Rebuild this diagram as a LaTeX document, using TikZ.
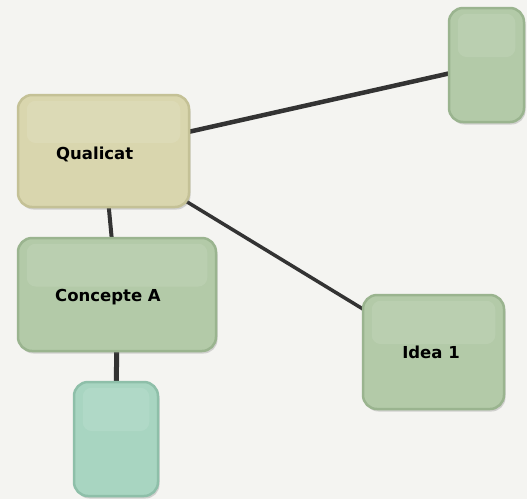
\documentclass[tikz,border=0pt]{standalone}
\usepackage{fontspec}
\setmainfont{DejaVu Sans}
\usetikzlibrary{shadows,calc}
\pgfdeclarelayer{bg}
\pgfdeclarelayer{edges}
\pgfsetlayers{bg,edges,main}
\definecolor{paper}{HTML}{F4F4F1}
\definecolor{yelfill}{HTML}{D9D6AE}
\definecolor{yelline}{HTML}{C4C196}
\definecolor{grnfill}{HTML}{B3CAA8}
\definecolor{grnline}{HTML}{9AB48F}
\definecolor{tealfill}{HTML}{A8D5C1}
\definecolor{tealline}{HTML}{8EBFA9}
\definecolor{edgecol}{HTML}{333333}
\tikzset{
  box/.style={rounded corners=14pt, line width=2.5pt, inner sep=0pt,
    drop shadow={shadow xshift=1.5pt, shadow yshift=-2.5pt, opacity=0.25, fill=black!60}},
  yelbox/.style={box, fill=yelfill, draw=yelline},
  grnbox/.style={box, fill=grnfill, draw=grnline},
  tealbox/.style={box, fill=tealfill, draw=tealline},
  gloss/.style={fill=white, opacity=0.1, rounded corners=9pt},
  label/.style={font=\bfseries\fontsize{16.5}{18}\selectfont, text=black, inner sep=0pt},
  link/.style={draw=edgecol, line cap=round},
}
\begin{document}
\begin{tikzpicture}[x=1pt,y=-1pt]
\begin{pgfonlayer}{bg}
\fill[paper] (0,0) rectangle (527,499);
\end{pgfonlayer}
\useasboundingbox (0,0) rectangle (527,499);

\node[yelbox, minimum width=171pt, minimum height=112pt] (q) at (103.5,151) {};
\node[grnbox, minimum width=198pt, minimum height=113pt] (c) at (117,294.5) {};
\node[tealbox, minimum width=84pt, minimum height=114pt] (t) at (116,439) {};
\node[grnbox, minimum width=141pt, minimum height=114pt] (i) at (433.5,352) {};
\node[grnbox, minimum width=75pt, minimum height=114pt] (r) at (486.5,65) {};

\foreach \n in {q,c,t,i,r}{
  \fill[gloss] ($(\n.north west)+(10,7)$) rectangle ($(\n.east)+(-10,-8)$);
}

\node[label, anchor=base west] (qt) at (56,159) {Qualicat};
\node[label, anchor=base west] (ct) at (55,301) {Concepte A};
\node[label, anchor=base] (it) at (431,358) {Idea 1};

\begin{pgfonlayer}{edges}
\draw[link, line width=4.5pt] (q.center) -- (r.center);
\draw[link, line width=3.5pt] (q.center) -- (i.center);
\draw[link, line width=4pt] (q.center) -- (c.center);
\draw[link, line width=5pt] (c.center) -- (t.center);
\end{pgfonlayer}
\end{tikzpicture}
\end{document}
